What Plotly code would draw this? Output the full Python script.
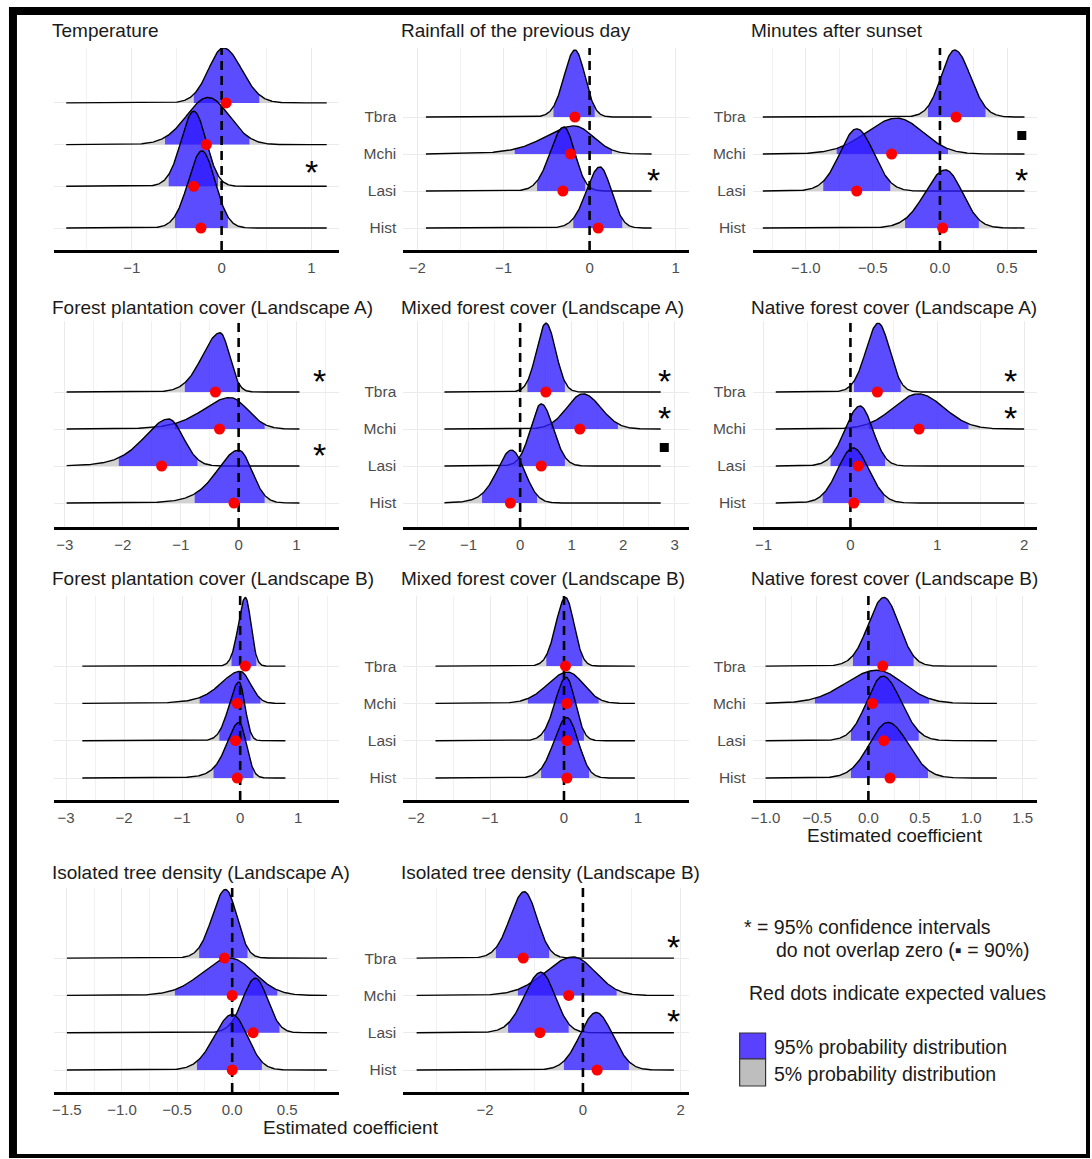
import numpy as np
import plotly.graph_objects as go

W, H = 1092, 1159
FONT = "Liberation Sans, Arial, Helvetica, sans-serif"

# ---------------- data (order of each inner list: Hist, Lasi, Mchi, Tbra) ----------------
species = ["Hist", "Lasi", "Mchi", "Tbra"]

titles = [
    "Temperature", "Rainfall of the previous day", "Minutes after sunset",
    "Forest plantation cover (Landscape A)", "Mixed forest cover (Landscape A)",
    "Native forest cover (Landscape A)",
    "Forest plantation cover (Landscape B)", "Mixed forest cover (Landscape B)",
    "Native forest cover (Landscape B)",
    "Isolated tree density (Landscape A)", "Isolated tree density (Landscape B)",
]

# expected values (red dots)
expected = [
    [-0.23, -0.31, -0.17, 0.05],
    [0.10, -0.31, -0.22, -0.17],
    [0.02, -0.62, -0.36, 0.12],
    [-0.08, -1.33, -0.33, -0.40],
    [-0.19, 0.41, 1.16, 0.50],
    [0.04, 0.09, 0.79, 0.31],
    [-0.05, -0.08, -0.05, 0.09],
    [0.04, 0.04, 0.04, 0.02],
    [0.21, 0.15, 0.04, 0.14],
    [0.00, 0.19, 0.00, -0.07],
    [0.29, -0.88, -0.29, -1.22],
]
# posterior modes (peak of each ridge)
modes = [
    [-0.22, -0.31, -0.15, 0.02],
    [0.12, -0.30, -0.18, -0.17],
    [0.04, -0.62, -0.32, 0.11],
    [0.00, -1.21, -0.15, -0.32],
    [-0.17, 0.41, 1.22, 0.50],
    [0.03, 0.11, 0.78, 0.32],
    [-0.02, -0.02, 0.00, 0.09],
    [0.04, 0.03, 0.05, 0.02],
    [0.19, 0.14, 0.08, 0.15],
    [0.00, 0.21, -0.02, -0.06],
    [0.27, -0.86, -0.20, -1.20],
]
# 95% interval bounds (blue area)
lower95 = [
    [-0.52, -0.59, -0.63, -0.31],
    [-0.19, -0.61, -0.87, -0.42],
    [-0.26, -0.87, -0.77, -0.09],
    [-0.76, -2.07, -1.10, -0.93],
    [-0.74, 0.00, 0.60, 0.14],
    [-0.32, -0.23, 0.21, 0.04],
    [-0.46, -0.36, -0.70, -0.15],
    [-0.31, -0.27, -0.49, -0.24],
    [-0.17, -0.17, -0.52, -0.15],
    [-0.32, -0.02, -0.52, -0.30],
    [-0.39, -1.53, -1.33, -1.78],
]
upper95 = [
    [0.07, -0.04, 0.31, 0.42],
    [0.38, -0.05, 0.26, 0.06],
    [0.29, -0.37, 0.06, 0.34],
    [0.45, -0.71, 0.45, 0.00],
    [0.33, 0.87, 1.90, 0.87],
    [0.39, 0.40, 1.36, 0.58],
    [0.23, 0.18, 0.35, 0.28],
    [0.34, 0.27, 0.47, 0.25],
    [0.58, 0.49, 0.59, 0.44],
    [0.27, 0.43, 0.41, 0.14],
    [0.94, -0.29, 0.69, -0.69],
]
# ridge peak heights (in units of the spacing between species rows)
peak_height = [
    [1.85, 1.80, 1.13, 1.32],
    [1.65, 1.73, 0.76, 1.81],
    [1.57, 1.68, 0.97, 1.81],
    [1.43, 1.27, 0.85, 1.60],
    [1.43, 1.68, 0.95, 1.86],
    [1.49, 1.62, 0.95, 1.86],
    [1.49, 1.57, 0.86, 1.84],
    [1.62, 1.70, 0.84, 1.84],
    [1.49, 1.73, 0.89, 1.84],
    [1.49, 1.46, 1.00, 1.84],
    [1.54, 1.62, 1.03, 1.78],
]
# heaviness of the left tail (small = long tail, large = normal-like)
left_tail = [
    [30, 30, 30, 30],
    [30, 30, 7, 30],
    [30, 30, 30, 30],
    [7, 7, 7, 30],
    [7, 30, 30, 30],
    [30, 30, 30, 30],
    [5, 30, 5, 30],
    [30, 30, 30, 30],
    [30, 30, 30, 30],
    [30, 30, 30, 30],
    [30, 30, 30, 30],
]
# range covered by the posterior samples
sample_min = [-1.73, -1.90, -1.32, -2.97, -1.47, -0.86, -2.72, -1.74, -1.00, -1.50, -3.40]
sample_max = [1.17, 0.72, 0.63, 1.05, 2.73, 2.00, 0.78, 0.96, 1.25, 0.86, 1.86]
# significance marks: "*" = 95% CI excludes zero, "sq" = 90%
signif = [
    ["", "*", "", ""],
    ["", "*", "", ""],
    ["", "*", "sq", ""],
    ["", "*", "", "*"],
    ["", "sq", "*", "*"],
    ["", "", "*", "*"],
    ["", "", "", ""],
    ["", "", "", ""],
    ["", "", "", ""],
    ["", "", "", ""],
    ["", "*", "", "*"],
]
tick_values = [
    [-1, 0, 1],
    [-2, -1, 0, 1],
    [-1.0, -0.5, 0.0, 0.5],
    [-3, -2, -1, 0, 1],
    [-2, -1, 0, 1, 2, 3],
    [-1, 0, 1, 2],
    [-3, -2, -1, 0, 1],
    [-2, -1, 0, 1],
    [-1.0, -0.5, 0.0, 0.5, 1.0, 1.5],
    [-1.5, -1.0, -0.5, 0.0, 0.5, 1.0],
    [-2, 0, 2],
]
tick_labels = [
    ["\u22121", "0", "1"],
    ["\u22122", "\u22121", "0", "1"],
    ["\u22121.0", "\u22120.5", "0.0", "0.5"],
    ["\u22123", "\u22122", "\u22121", "0", "1"],
    ["\u22122", "\u22121", "0", "1", "2", "3"],
    ["\u22121", "0", "1", "2"],
    ["\u22123", "\u22122", "\u22121", "0", "1"],
    ["\u22122", "\u22121", "0", "1"],
    ["\u22121.0", "\u22120.5", "0.0", "0.5", "1.0", "1.5"],
    ["\u22121.5", "\u22121.0", "\u22120.5", "0.0", "0.5", "1.0"],
    ["\u22122", "0", "2"],
]

# ---------------- layout / style (positions in pixels) ----------------
panel_rc = [(0, 0), (0, 1), (0, 2), (1, 0), (1, 1), (1, 2), (2, 0), (2, 1), (2, 2), (3, 0), (3, 1)]
col_px = [(52, 338), (402, 688), (752, 1037)]
row_px = [
    dict(top=48, axis=250, base=228, step=37.0, title=30),
    dict(top=321, axis=527, base=503, step=37.0, title=308),
    dict(top=596, axis=800, base=778, step=37.3, title=578),
    dict(top=888, axis=1092, base=1070, step=37.3, title=872),
]
# panel-specific row spacing (px) where it differs from the row default
step_override = {0: 41.7}
x_ranges = [(-1.867, 1.311), (-2.163, 1.151), (-1.396, 0.724), (-3.19, 1.74), (-2.27, 3.275),
            (-1.126, 2.149), (-3.21, 1.71), (-2.176, 1.689), (-1.126, 1.641), (-1.618, 0.973),
            (-3.673, 2.163)]
minor_dtick = [0.5, 0.5, 0.25, 0.5, 0.5, 0.5, 0.5, 0.5, 0.25, 0.25, 1.0]
sig_x = [1.0, 0.74, 0.61, 1.4, 2.8, 1.84, None, None, None, None, 1.86]

BLUE = "rgba(45,25,255,0.78)"
GREY = "rgba(195,195,195,0.75)"
GRID = "#EBEBEB"
TICK_COL = "#4D4D4D"


def px_x(p):
    return p / W


def px_y(p):
    return 1 - p / H


def ridge_profile(m, lo, hi, pk, nu, xs):
    xs = np.asarray(xs, dtype=float)
    sl = max(m - lo, 1e-3) / 1.96
    sr = max(hi - m, 1e-3) / 1.96
    zl = (xs - m) / sl
    zr = (xs - m) / sr
    left = (1 + zl ** 2 / nu) ** (-(nu + 1) / 2)
    right = np.exp(-0.5 * zr ** 2)
    return pk * np.where(xs < m, left, right)


fig = go.Figure()
layout_axes = {}
annotations = []
shapes = []

for p, (r, c) in enumerate(panel_rc):
    n = p + 1
    xa = "x" if n == 1 else f"x{n}"
    ya = "y" if n == 1 else f"y{n}"
    rp = row_px[r]
    x0px, x1px = col_px[c]
    step = step_override.get(p, rp["step"])
    y_lo = -(rp["axis"] - rp["base"]) / step
    y_hi = (rp["base"] - rp["top"]) / step

    layout_axes["xaxis" if n == 1 else f"xaxis{n}"] = dict(
        domain=[px_x(x0px), px_x(x1px)], anchor=ya, range=list(x_ranges[p]),
        tickmode="array", tickvals=tick_values[p], ticktext=tick_labels[p],
        showgrid=True, gridcolor=GRID, gridwidth=1, zeroline=False,
        showline=True, linecolor="black", linewidth=2.5, ticks="",
        tickfont=dict(family=FONT, size=15, color=TICK_COL), ticklabelstandoff=2,
        minor=dict(tickmode="linear", tick0=0, dtick=minor_dtick[p], showgrid=True,
                   gridcolor="#F1F1F1", gridwidth=1, ticks=""),
        fixedrange=True,
    )
    layout_axes["yaxis" if n == 1 else f"yaxis{n}"] = dict(
        domain=[px_y(rp["axis"]), px_y(rp["top"])], anchor=xa, range=[y_lo, y_hi],
        tickmode="array", tickvals=[0, 1, 2, 3], ticktext=species,
        showticklabels=(c != 0), showgrid=True, gridcolor=GRID, gridwidth=1,
        zeroline=False, showline=False, ticks="", ticklabelstandoff=6,
        tickfont=dict(family=FONT, size=15.5, color=TICK_COL), fixedrange=True,
    )

    xmin, xmax = sample_min[p], sample_max[p]
    xs = np.linspace(xmin, xmax, 400)
    for j in [3, 2, 1, 0]:
        m, lo, hi = modes[p][j], lower95[p][j], upper95[p][j]
        pk, nu = peak_height[p][j], left_tail[p][j]

        def prof(v, m=m, lo=lo, hi=hi, pk=pk, nu=nu):
            return ridge_profile(m, lo, hi, pk, nu, v)

        # grey tails (outside 95%)
        xl = np.concatenate([xs[xs < lo], [lo]])
        xr = np.concatenate([[hi], xs[xs > hi]])
        tx = list(xl) + [lo, xmin, None] + list(xr) + [xmax, hi]
        ty = list(j + prof(xl)) + [j, j, None] + list(j + prof(xr)) + [j, j]
        fig.add_trace(go.Scatter(x=tx, y=ty, xaxis=xa, yaxis=ya, mode="lines", fill="toself",
                                 fillcolor=GREY, line=dict(width=0), hoverinfo="skip",
                                 showlegend=False))
        # blue 95% area
        xm = np.concatenate([[lo], xs[(xs > lo) & (xs < hi)], [hi]])
        bx = list(xm) + [hi, lo]
        by = list(j + prof(xm)) + [j, j]
        fig.add_trace(go.Scatter(x=bx, y=by, xaxis=xa, yaxis=ya, mode="lines", fill="toself",
                                 fillcolor=BLUE, line=dict(width=0), hoverinfo="skip",
                                 showlegend=False))
        # outline
        fig.add_trace(go.Scatter(x=xs, y=j + prof(xs), xaxis=xa, yaxis=ya, mode="lines",
                                 line=dict(color="black", width=1.4), hoverinfo="skip",
                                 showlegend=False))
    # dashed zero line
    fig.add_trace(go.Scatter(x=[0, 0], y=[y_lo, y_hi], xaxis=xa, yaxis=ya, mode="lines",
                             line=dict(color="black", width=2.6, dash="9px,6px"),
                             hoverinfo="skip", showlegend=False))
    # expected values
    fig.add_trace(go.Scatter(x=expected[p], y=[0, 1, 2, 3], xaxis=xa, yaxis=ya, mode="markers",
                             marker=dict(color="#FF0000", size=11, line=dict(width=0)),
                             hoverinfo="skip", showlegend=False, cliponaxis=False))
    # significance marks
    for j in range(4):
        mark = signif[p][j]
        if mark == "*":
            annotations.append(dict(x=sig_x[p], y=j + 0.55, xref=xa, yref=ya, text="*",
                                    showarrow=False, xanchor="center", yanchor="middle",
                                    yshift=-9, font=dict(family=FONT, size=34, color="black")))
        elif mark == "sq":
            fig.add_trace(go.Scatter(x=[sig_x[p]], y=[j + 0.5], xaxis=xa, yaxis=ya,
                                     mode="markers", marker=dict(symbol="square", size=9,
                                                                 color="black"),
                                     hoverinfo="skip", showlegend=False, cliponaxis=False))
    # panel title
    annotations.append(dict(x=px_x(x0px - 4), y=px_y(rp["title"]), xref="paper", yref="paper",
                            text=titles[p], showarrow=False, xanchor="left", yanchor="middle",
                            font=dict(family=FONT, size=19, color="#1A1A1A")))

# x axis titles
for (cx, cy) in [(895, 835), (350, 1127)]:
    annotations.append(dict(x=px_x(cx), y=px_y(cy), xref="paper", yref="paper",
                            text="Estimated coefficient", showarrow=False,
                            xanchor="center", yanchor="middle",
                            font=dict(family=FONT, size=19, color="#1A1A1A")))

# explanatory legend
legend_lines = [
    (741, 927, "* = 95% confidence intervals"),
    (773, 950, "do not overlap zero (\u25aa = 90%)"),
    (746, 993, "Red dots indicate expected values"),
    (771, 1047, "95% probability distribution"),
    (771, 1074, "5% probability distribution"),
]
for (lx, ly, txt) in legend_lines:
    annotations.append(dict(x=px_x(lx), y=px_y(ly), xref="paper", yref="paper", text=txt,
                            showarrow=False, xanchor="left", yanchor="middle",
                            font=dict(family=FONT, size=19.5, color="#1A1A1A")))
shapes.append(dict(type="rect", xref="paper", yref="paper", x0=px_x(739), x1=px_x(765),
                   y0=px_y(1059), y1=px_y(1033), fillcolor="#5A40FF",
                   line=dict(color="#333333", width=1.2)))
shapes.append(dict(type="rect", xref="paper", yref="paper", x0=px_x(739), x1=px_x(765),
                   y0=px_y(1086), y1=px_y(1059), fillcolor="#BEBEBE",
                   line=dict(color="#333333", width=1.2)))

# outer frame
for (a, b, c2, d) in [(7, 7, 1090, 15), (7, 7, 15, 1158), (7, 1154, 1090, 1158),
                      (1086, 7, 1090, 1158)]:
    shapes.append(dict(type="rect", xref="paper", yref="paper", x0=px_x(a), x1=px_x(c2),
                       y0=px_y(d), y1=px_y(b), fillcolor="black", line=dict(width=0),
                       layer="above"))

fig.update_layout(
    width=W, height=H, margin=dict(l=0, r=0, t=0, b=0), autosize=False,
    paper_bgcolor="white", plot_bgcolor="white", showlegend=False,
    annotations=annotations, shapes=shapes, **layout_axes,
)

fig.write_html("out.html", config={"displayModeBar": False},
               post_script="document.body.style.margin='0px';document.body.style.overflow='hidden';")
